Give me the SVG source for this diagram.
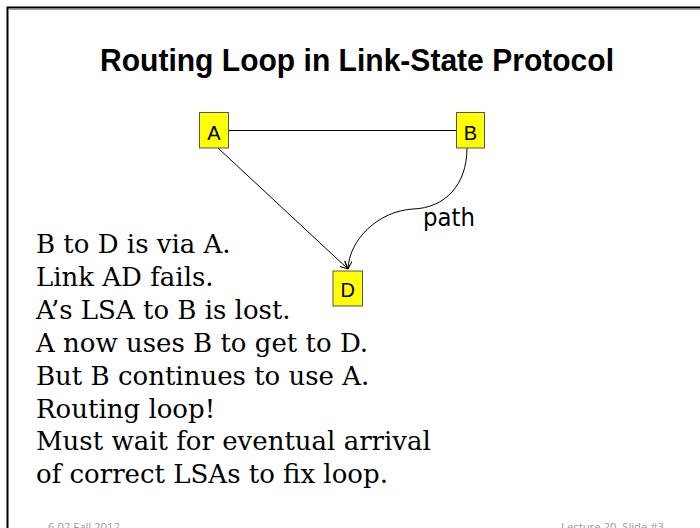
<svg xmlns="http://www.w3.org/2000/svg" width="700" height="528" viewBox="0 0 700 528">
  <style>
    .node rect { fill: #ffff00; stroke: #555555; stroke-width: 1; }
    .node text { font-family: "Liberation Sans", Arial, sans-serif; font-size: 20px; fill: #000; text-anchor: middle; }
    .conn { fill: none; stroke: #000; stroke-width: 1; }
    .body { font-family: "DejaVu Serif", "Liberation Serif", serif; font-size: 26px; fill: #000; }
    .foot { font-family: "Open Sans", "Liberation Sans", sans-serif; font-size: 11.5px; fill: #9a9a9a; }
  </style>
  <defs>
    <marker id="arrow" markerUnits="userSpaceOnUse" viewBox="0 0 10 10" refX="9.5" refY="5" markerWidth="9" markerHeight="9" orient="auto">
      <path d="M1,1 L9.5,5 L1,9" fill="none" stroke="#000" stroke-width="1.1"/>
    </marker>
  </defs>
  <rect x="0" y="0" width="700" height="528" fill="#ffffff"/>
  <!-- frame -->
  <path d="M7.5,528 V7.5 H700" fill="none" stroke="#000" stroke-width="2"/>
  <line x1="8.5" y1="9.5" x2="700" y2="9.5" stroke="#a0a0a0" stroke-width="1"/>

  <text x="100" y="70.5" font-family="'Liberation Sans', Arial, sans-serif" font-weight="bold" font-size="32" textLength="514" lengthAdjust="spacingAndGlyphs">Routing Loop in Link-State Protocol</text>

  <g id="connectors">
    <line class="conn" x1="228.5" y1="130.5" x2="456.5" y2="130.5"/>
    <path class="conn" d="M218,148 L348,269" marker-end="url(#arrow)"/>
    <path class="conn" d="M467,148 C467,185 445,208 413,209 C378,211 349,240 348,269" marker-end="url(#arrow)"/>
    <text x="423" y="226" font-family="'DejaVu Sans', Verdana, sans-serif" font-size="24" textLength="52" lengthAdjust="spacingAndGlyphs">path</text>
  </g>

  <g id="node-A" class="node">
    <rect x="199.5" y="112.5" width="29" height="35.5"/>
    <text x="214" y="139.5">A</text>
  </g>
  <g id="node-B" class="node">
    <rect x="456.5" y="112.5" width="28" height="35.5"/>
    <text x="470.5" y="139.5">B</text>
  </g>
  <g id="node-D" class="node">
    <rect x="333" y="271" width="29.5" height="35"/>
    <text x="347.8" y="297">D</text>
  </g>

  <g id="body-text" class="body">
    <text x="36" y="253">B to D is via A.</text>
    <text x="36" y="286">Link AD fails.</text>
    <text x="36" y="319">A’s LSA to B is lost.</text>
    <text x="36" y="352">A now uses B to get to D.</text>
    <text x="36" y="385">But B continues to use A.</text>
    <text x="36" y="418">Routing loop!</text>
    <text x="36" y="450">Must wait for eventual arrival</text>
    <text x="36" y="483">of correct LSAs to fix loop.</text>
  </g>

  <text class="foot" x="48" y="531" textLength="72" lengthAdjust="spacingAndGlyphs">6.02 Fall 2012</text>
  <text class="foot" x="561" y="531" textLength="103" lengthAdjust="spacingAndGlyphs">Lecture 20, Slide #3</text>
</svg>
